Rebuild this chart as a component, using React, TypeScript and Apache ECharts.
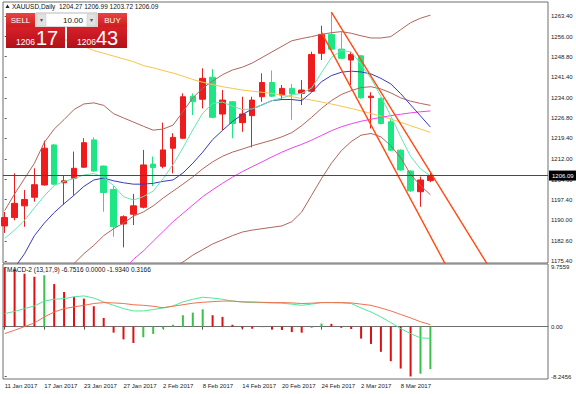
import React, { useEffect, useRef } from 'react';
import * as echarts from 'echarts';

const FONT = 'Liberation Sans, Arial, sans-serif';

const dates = [
  '11 Jan 2017', '12 Jan 2017', '13 Jan 2017', '16 Jan 2017', '17 Jan 2017', '18 Jan 2017', '19 Jan 2017', '20 Jan 2017',
  '23 Jan 2017', '24 Jan 2017', '25 Jan 2017', '26 Jan 2017', '27 Jan 2017', '30 Jan 2017', '31 Jan 2017',
  '1 Feb 2017', '2 Feb 2017', '3 Feb 2017', '6 Feb 2017', '7 Feb 2017', '8 Feb 2017', '9 Feb 2017', '10 Feb 2017',
  '13 Feb 2017', '14 Feb 2017', '15 Feb 2017', '16 Feb 2017', '17 Feb 2017', '20 Feb 2017', '21 Feb 2017',
  '22 Feb 2017', '23 Feb 2017', '24 Feb 2017', '27 Feb 2017', '28 Feb 2017',
  '1 Mar 2017', '2 Mar 2017', '3 Mar 2017', '6 Mar 2017', '7 Mar 2017', '8 Mar 2017', '9 Mar 2017', '10 Mar 2017', '13 Mar 2017',
];
const dateTickIdx = [0, 4, 8, 12, 16, 20, 24, 28, 32, 36, 40];
const priceTicks = [1263.4, 1256.0, 1248.8, 1241.4, 1234.0, 1226.8, 1219.4, 1212.0, 1204.6, 1197.4, 1190.0, 1182.6, 1175.4];
const macdTicks = [9.7559, 0, -8.2456];

// [open, close, low, high]
const candles = [
  [1188.0, 1191.0, 1185.5, 1193.0],
  [1191.0, 1196.1, 1190.0, 1206.9],
  [1195.2, 1197.5, 1187.7, 1200.9],
  [1198.3, 1202.8, 1196.7, 1208.7],
  [1202.7, 1215.9, 1202.5, 1218.6],
  [1217.1, 1203.0, 1202.6, 1217.4],
  [1203.5, 1204.2, 1195.6, 1206.3],
  [1205.1, 1208.7, 1199.1, 1214.7],
  [1209.1, 1217.9, 1208.9, 1219.5],
  [1218.9, 1207.7, 1207.4, 1219.8],
  [1209.5, 1200.0, 1193.1, 1209.7],
  [1201.1, 1187.7, 1184.1, 1202.3],
  [1188.7, 1191.3, 1180.3, 1191.8],
  [1192.2, 1195.2, 1188.3, 1199.5],
  [1194.7, 1209.9, 1194.3, 1215.3],
  [1210.2, 1209.0, 1202.3, 1212.9],
  [1209.4, 1215.3, 1208.7, 1225.1],
  [1215.9, 1219.8, 1206.9, 1221.3],
  [1219.5, 1234.4, 1219.2, 1235.6],
  [1234.6, 1232.6, 1227.8, 1235.6],
  [1233.5, 1241.0, 1230.2, 1244.6],
  [1241.4, 1227.0, 1226.7, 1244.3],
  [1228.2, 1233.2, 1222.4, 1236.8],
  [1232.6, 1224.8, 1219.5, 1232.9],
  [1225.1, 1228.2, 1221.8, 1234.4],
  [1227.6, 1233.2, 1216.2, 1234.4],
  [1234.4, 1239.5, 1232.6, 1242.8],
  [1239.5, 1234.6, 1234.3, 1243.8],
  [1235.0, 1237.4, 1233.2, 1238.6],
  [1237.4, 1235.4, 1226.1, 1239.0],
  [1235.6, 1236.8, 1231.4, 1240.4],
  [1236.4, 1249.6, 1236.1, 1250.6],
  [1250.0, 1256.8, 1247.6, 1259.9],
  [1256.8, 1251.5, 1251.2, 1264.7],
  [1251.5, 1248.2, 1247.9, 1257.8],
  [1247.6, 1249.6, 1238.6, 1250.4],
  [1249.1, 1234.0, 1233.7, 1249.4],
  [1234.1, 1234.6, 1223.0, 1236.0],
  [1233.8, 1224.8, 1224.5, 1234.1],
  [1225.4, 1215.2, 1214.9, 1226.6],
  [1215.2, 1208.1, 1207.8, 1215.5],
  [1207.7, 1200.6, 1200.2, 1208.0],
  [1200.3, 1204.5, 1194.9, 1205.7],
  [1204.27, 1206.09, 1203.72, 1206.99],
];

const maFast = [
  1183.5, 1186.5, 1190.0, 1194.5, 1198.8, 1202.5, 1204.0, 1205.0, 1206.3, 1206.8, 1205.5, 1202.5, 1198.5, 1197.3, 1198.5,
  1200.5, 1205.0, 1210.0, 1216.0, 1222.5, 1228.5, 1232.0, 1232.5, 1231.0, 1229.8, 1230.0, 1231.5, 1233.0, 1234.0, 1235.0,
  1235.6, 1237.5, 1243.0, 1248.5, 1251.0, 1250.5, 1246.0, 1241.0, 1234.5, 1227.5, 1220.0, 1213.0, 1208.5, 1206.0,
];
const maBlue = [
  1168.0, 1173.0, 1178.0, 1184.5, 1189.0, 1192.8, 1196.0, 1199.0, 1202.2, 1204.5, 1205.2, 1204.2, 1203.5, 1203.0, 1203.0,
  1203.3, 1204.0, 1204.5, 1207.0, 1210.5, 1214.5, 1219.0, 1222.3, 1225.5, 1228.0, 1230.0, 1231.5, 1233.0, 1233.4, 1233.4,
  1233.0, 1236.0, 1239.8, 1242.0, 1243.2, 1243.6, 1243.3, 1242.6, 1241.0, 1239.0, 1235.5, 1231.5, 1227.5, 1223.5,
];
const maMagentaStart = 12;
const maMagenta = [
  1172.0, 1176.0, 1179.0, 1182.5, 1186.0, 1189.5, 1192.5, 1195.5, 1198.5, 1201.0, 1203.3, 1205.5, 1207.5, 1209.3, 1211.0,
  1212.8, 1214.5, 1216.0, 1217.3, 1218.8, 1220.5, 1222.2, 1223.6, 1224.7, 1225.6, 1226.3, 1227.0, 1227.6, 1228.1, 1228.6,
  1229.0, 1229.3,
];
const maYellowStart = 6;
const maYellow = [
  1255.0, 1253.8, 1252.5, 1251.0, 1250.0, 1249.0, 1248.0, 1247.0, 1245.6, 1244.8, 1243.8, 1242.9, 1241.8, 1240.6, 1239.6,
  1238.8, 1238.0, 1237.4, 1236.8, 1236.4, 1236.0, 1235.6, 1235.0, 1234.4, 1233.8, 1233.2, 1232.5, 1231.8, 1231.0, 1230.2,
  1229.3, 1228.4, 1227.4, 1226.4, 1225.2, 1224.0, 1222.8, 1221.6,
];
const bbUpper = [
  1193.5, 1199.5, 1205.0, 1210.5, 1218.0, 1222.8, 1226.2, 1229.8, 1231.8, 1232.2, 1231.3, 1228.3, 1226.8, 1225.3, 1223.8,
  1222.4, 1222.8, 1224.2, 1229.0, 1234.0, 1237.5, 1240.0, 1242.3, 1244.0, 1245.0, 1246.5, 1248.5, 1250.5, 1252.5, 1254.5,
  1255.3, 1256.0, 1256.8, 1257.4, 1257.8, 1257.2, 1256.3, 1255.5, 1255.5, 1256.0, 1258.5, 1261.0, 1262.6, 1263.7,
];
const bbMidStart = 6;
const bbMid = [
  1171.0, 1174.5, 1178.0, 1181.0, 1184.5, 1187.0, 1189.0, 1191.5, 1193.0, 1195.2, 1198.0, 1200.5, 1203.0, 1205.6, 1208.5,
  1211.0, 1213.0, 1214.5, 1215.6, 1216.8, 1217.8, 1218.8, 1220.0, 1221.5, 1224.0, 1227.0, 1230.2, 1233.0, 1235.2, 1236.6,
  1237.7, 1238.0, 1237.2, 1235.8, 1234.0, 1232.8, 1232.0, 1231.3,
];
const bbLowStart = 17;
const bbLow = [
  1173.0, 1175.0, 1177.5, 1179.5, 1181.5, 1183.0, 1184.5, 1185.8, 1186.5, 1187.0, 1187.5, 1188.0, 1189.5, 1193.0, 1199.0,
  1205.0, 1210.5, 1215.0, 1218.3, 1220.6, 1221.2, 1220.0, 1216.8, 1212.5, 1206.5, 1202.5, 1199.2,
];
const channelA = [[33, 1264.8], [49, 1172.8]];
const channelB = [[32, 1257.5], [44.7, 1173.0]];
const lastPrice = 1206.09;

const macdHist = [
  9.7559, 9.44, 8.7, 8.2, 8.45, 7.0, 5.7, 4.9, 4.6, 3.35, 1.43, -0.99, -2.1, -2.7, -1.75, -1.2, -0.35, 0.3, 1.87, 2.3,
  2.85, 1.87, 1.6, 0.3, -0.3, -0.35, -0.1, -0.5, -0.55, -0.9, -1.0, -0.2, 0.5, 0.45, -0.2, -0.4, -1.97, -2.85, -4.15,
  -5.7, -6.9, -8.2, -7.75, -7.0,
];
const macdMain = [
  2.14, 2.5, 2.96, 3.4, 4.2, 4.5, 4.6, 4.9, 5.05, 4.7, 4.06, 3.5, 2.96, 2.58, 2.58, 2.8, 3.07, 3.4, 4.06, 4.5, 4.83, 4.7,
  4.5, 4.2, 4.06, 3.95, 3.95, 3.9, 3.85, 3.7, 3.5, 3.7, 3.95, 3.95, 3.9, 3.8, 3.07, 2.4, 1.6, 0.66, -0.33, -1.15, -1.86,
  -1.93,
];
const macdSignal = [
  -1.15, -0.6, 0, 0.6, 1.6, 2.4, 2.96, 3.24, 3.5, 3.8, 3.95, 3.9, 3.8, 3.6, 3.5, 3.35, 3.1, 3.35, 3.6, 3.85, 4.0, 4.1,
  4.2, 4.2, 4.06, 4.06, 4.0, 3.95, 3.95, 3.9, 3.8, 3.85, 3.95, 3.95, 3.95, 3.9, 3.7, 3.5, 3.07, 2.58, 2.0, 1.43, 0.8, 0.32,
];

const XMIN = -0.172;
const XMAX = 54.88;
const YMIN = 1174.68;
const YMAX = 1268.43;
const MMIN = -8.62;
const MMAX = 10.3;

const UP = '#ee1c1c';
const DOWN = '#1fe684';

const toXY = (arr: number[], start = 0) => arr.map((v, i) => [i + start, v]);

const priceLine = (name: string, data: number[][], color: string, width = 1) => ({
  type: 'line',
  name,
  data,
  xAxisIndex: 0,
  yAxisIndex: 0,
  symbol: 'none',
  showSymbol: false,
  silent: true,
  clip: true,
  z: 3,
  lineStyle: { color, width },
});

const redGrad = (a: string, b: string) => ({
  type: 'linear', x: 0, y: 0, x2: 0, y2: 1,
  colorStops: [{ offset: 0, color: a }, { offset: 1, color: b }],
});

const txt = (x: number, y: number, text: string, size: number, fill: string, align = 'left', vAlign = 'middle', bold = false) => ({
  type: 'text',
  x,
  y,
  z: 101,
  silent: true,
  style: {
    text,
    fill,
    fontSize: size,
    fontFamily: FONT,
    fontWeight: bold ? 'bold' : 'normal',
    align,
    verticalAlign: vAlign,
    textAlign: align,
    textVerticalAlign: vAlign,
  },
});

export default function App() {
  const ref = useRef<HTMLDivElement>(null);
  useEffect(() => {
    if (!ref.current) return;
    const chart = echarts.init(ref.current, undefined, { renderer: 'svg' });
    const option: any = {
      animation: false,
      backgroundColor: '#ffffff',
      grid: [
        { left: 3, top: 2, width: 545, height: 261, show: true, borderColor: '#6e6e6e', borderWidth: 1, backgroundColor: '#fff' },
        { left: 3, top: 264, width: 545, height: 115, show: true, borderColor: '#6e6e6e', borderWidth: 1, backgroundColor: '#fff' },
      ],
      xAxis: [
        {
          type: 'value', gridIndex: 0, min: XMIN, max: XMAX,
          axisLine: { show: false }, axisTick: { show: false }, axisLabel: { show: false }, splitLine: { show: false },
        },
        {
          type: 'value', gridIndex: 1, min: XMIN, max: XMAX,
          axisLine: { show: true, lineStyle: { color: '#6e6e6e' } },
          axisTick: { show: true, customValues: dateTickIdx, length: 3, lineStyle: { color: '#555' } },
          axisLabel: {
            show: true, customValues: dateTickIdx,
            formatter: (v: number) => dates[Math.round(v)] ?? '',
            fontSize: 6, fontFamily: FONT, color: '#222', align: 'left', margin: 4,
          },
          splitLine: { show: false },
        },
      ],
      yAxis: [
        {
          type: 'value', gridIndex: 0, position: 'right', min: YMIN, max: YMAX,
          axisLine: { show: false },
          axisTick: { show: true, customValues: priceTicks, length: 2, lineStyle: { color: '#555' } },
          axisLabel: {
            show: true, customValues: priceTicks, formatter: (v: number) => v.toFixed(2),
            fontSize: 6, fontFamily: FONT, color: '#222', margin: 3,
          },
          splitLine: { show: false },
        },
        {
          type: 'value', gridIndex: 1, position: 'right', min: MMIN, max: MMAX,
          axisLine: { show: false },
          axisTick: { show: true, customValues: macdTicks, length: 2, lineStyle: { color: '#555' } },
          axisLabel: {
            show: true, customValues: macdTicks,
            formatter: (v: number) => (Math.abs(v) < 1e-9 ? '0.00' : v.toFixed(4)),
            fontSize: 6, fontFamily: FONT, color: '#222', margin: 3,
          },
          splitLine: { show: false },
        },
      ],
      series: [
        {
          type: 'candlestick',
          xAxisIndex: 0,
          yAxisIndex: 0,
          data: candles.map((c, i) => [i, c[0], c[1], c[2], c[3]]),
          barWidth: 6,
          clip: true,
          silent: true,
          z: 2,
          itemStyle: { color: UP, color0: DOWN, borderColor: UP, borderColor0: DOWN, borderWidth: 1 },
          markLine: {
            silent: true,
            symbol: ['none', 'none'],
            lineStyle: { color: '#4a4a4a', width: 1, type: 'solid' },
            label: {
              show: true, position: 'end', formatter: lastPrice.toFixed(2), color: '#fff', backgroundColor: '#000',
              fontSize: 6, fontFamily: FONT, padding: [2, 3], distance: 1,
            },
            data: [{ yAxis: lastPrice }],
          },
        },
        priceLine('bbUpper', toXY(bbUpper), '#b0645c'),
        priceLine('bbMid', toXY(bbMid, bbMidStart), '#b0645c'),
        priceLine('bbLow', toXY(bbLow, bbLowStart), '#b0645c'),
        priceLine('maYellow', toXY(maYellow, maYellowStart), '#f7c44c'),
        priceLine('maMagenta', toXY(maMagenta, maMagentaStart), '#ee44ee'),
        priceLine('maBlue', toXY(maBlue), '#3a3ab8'),
        priceLine('maFast', toXY(maFast), '#66e6b0'),
        priceLine('channelA', channelA, '#ff4a12', 1.4),
        priceLine('channelB', channelB, '#ff4a12', 1.4),
        {
          type: 'bar',
          xAxisIndex: 1,
          yAxisIndex: 1,
          data: toXY(macdHist),
          barWidth: 2,
          silent: true,
          itemStyle: {
            color: (p: any) => {
              const i = p.dataIndex;
              return i > 0 && macdHist[i] > macdHist[i - 1] ? '#3cc04a' : '#e01010';
            },
          },
        },
        {
          type: 'line', xAxisIndex: 1, yAxisIndex: 1, data: toXY(macdMain), symbol: 'none', silent: true,
          lineStyle: { color: '#4fe89a', width: 1 }, z: 3,
        },
        {
          type: 'line', xAxisIndex: 1, yAxisIndex: 1, data: toXY(macdSignal), symbol: 'none', silent: true,
          lineStyle: { color: '#f07050', width: 1 }, z: 3,
        },
      ],
      graphic: [
        { type: 'polygon', z: 101, silent: true, shape: { points: [[5.5, 8], [7.5, 4.5], [9.5, 8]] }, style: { fill: '#222' } },
        txt(12, 6.5, 'XAUUSD,Daily  1204.27 1206.99 1203.72 1206.09', 6.5, '#111'),
        txt(7, 269.5, 'MACD-2 (13,17,9) -6.7516 0.0000 -1.9340 0.3166', 6.5, '#111'),
        // SELL button
        { type: 'rect', z: 100, silent: true, shape: { x: 6, y: 13, width: 29, height: 14 }, style: { fill: redGrad('#e84444', '#cc1c1c') } },
        txt(20.5, 20, 'SELL', 8, '#fff', 'center'),
        // lot field
        { type: 'rect', z: 100, silent: true, shape: { x: 36, y: 13, width: 61, height: 14 }, style: { fill: '#fff', stroke: '#b8b8b8', lineWidth: 1 } },
        { type: 'rect', z: 100, silent: true, shape: { x: 37, y: 14, width: 9, height: 12 }, style: { fill: '#e2e2e2', stroke: '#c4c4c4', lineWidth: 0.5 } },
        { type: 'rect', z: 100, silent: true, shape: { x: 87, y: 14, width: 9, height: 12 }, style: { fill: '#e2e2e2', stroke: '#c4c4c4', lineWidth: 0.5 } },
        txt(41.5, 20, '▾', 6, '#555', 'center'),
        txt(91.5, 20, '▾', 6, '#555', 'center'),
        txt(73, 20, '10.00', 8, '#111', 'center'),
        // BUY button
        { type: 'rect', z: 100, silent: true, shape: { x: 98, y: 13, width: 29, height: 14 }, style: { fill: redGrad('#e84444', '#cc1c1c') } },
        txt(112.5, 20, 'BUY', 8, '#fff', 'center'),
        // price boxes
        { type: 'rect', z: 100, silent: true, shape: { x: 6, y: 27, width: 59, height: 21 }, style: { fill: redGrad('#d62028', '#b3101a') } },
        { type: 'rect', z: 100, silent: true, shape: { x: 67, y: 27, width: 60, height: 21 }, style: { fill: redGrad('#d62028', '#b3101a') } },
        txt(16, 46, '1206', 8.5, '#fff', 'left', 'bottom'),
        txt(36, 48, '17', 20, '#fff', 'left', 'bottom'),
        txt(77, 46, '1206', 8.5, '#fff', 'left', 'bottom'),
        txt(96, 48, '43', 20, '#fff', 'left', 'bottom'),
      ],
    };
    chart.setOption(option);
    return () => chart.dispose();
  }, []);
  return (
    <div
      ref={ref}
      style={{ position: 'fixed', left: 0, top: 0, width: 576, height: 394, background: '#fff' }}
    />
  );
}
